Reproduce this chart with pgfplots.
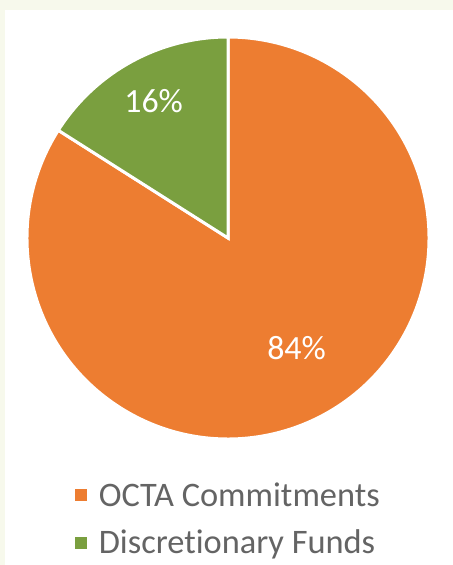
\documentclass[border=0pt]{standalone}
\usepackage{pgfplots}
\usepackage{pgfplotstable}
\pgfplotsset{compat=1.18}
\usepackage{fontspec}
\setmainfont{Carlito}[Ligatures=NoCommon]
\definecolor{octa}{RGB}{237,125,49}
\definecolor{disc}{RGB}{122,159,63}
\definecolor{framebg}{RGB}{247,249,236}
\definecolor{legtext}{RGB}{100,100,100}

% share of each slice, in percent
\pgfplotstableread{
share label
84 OCTA
16 Discretionary
}\piedata
\pgfplotstablegetelem{0}{share}\of\piedata \let\shareA\pgfplotsretval
\pgfplotstablegetelem{1}{share}\of\piedata \let\shareB\pgfplotsretval
\pgfmathsetmacro\angB{90+3.6*\shareB}
\pgfmathsetmacro\cxB{cos(\angB)}
\pgfmathsetmacro\cyB{sin(\angB)}

\begin{document}
\begin{tikzpicture}
\useasboundingbox (0,0) rectangle (453bp,565bp);
\fill[framebg] (0,0) rectangle (453bp,565bp);
\fill[white] (5bp,0) rectangle (453bp,555bp);
\begin{axis}[
  at={(27bp,126bp)}, anchor=south west,
  scale only axis, width=402bp, height=402bp,
  xmin=-1, xmax=1, ymin=-1, ymax=1,
  hide axis, clip=false,
  legend style={at={(axis cs:-0.76,-1.205)}, anchor=north west,
    draw=none, fill=none, text=legtext,
    font=\fontsize{34.5}{40}\selectfont,
    row sep=18bp, column sep=10bp, inner sep=0pt,
    cells={anchor=west}},
]
\addlegendimage{legend image code/.code={\fill[octa] (0bp,-5.5bp) rectangle (11bp,5.5bp);}}
\addlegendentry{OCTA Commitments}
\addlegendimage{legend image code/.code={\fill[disc] (0bp,-5.5bp) rectangle (11bp,5.5bp);}}
\addlegendentry{Discretionary Funds}

\filldraw[fill=octa, draw=white, line width=3bp] (axis cs:0,0) -- (axis cs:\cxB,\cyB)
  arc[start angle=\angB, end angle=450, radius=201bp] -- cycle;
\filldraw[fill=disc, draw=white, line width=3bp] (axis cs:0,0) -- (axis cs:0,1)
  arc[start angle=90, end angle=\angB, radius=201bp] -- cycle;

\node[text=white, font=\fontsize{34}{40}\selectfont] at (axis cs:-0.37,0.682) {\shareB\%};
\node[text=white, font=\fontsize{34}{40}\selectfont] at (axis cs:0.341,-0.547) {\shareA\%};
\end{axis}
\end{tikzpicture}
\end{document}
